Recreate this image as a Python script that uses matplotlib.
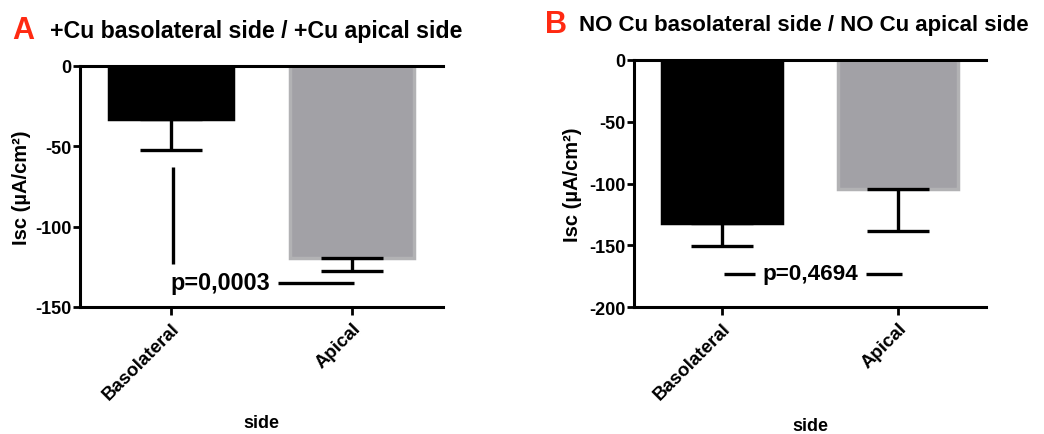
import numpy as np
import matplotlib
matplotlib.use("Agg")
import matplotlib.pyplot as plt

plt.rcParams['font.family'] = ['Liberation Sans', 'DejaVu Sans']
plt.rcParams['font.weight'] = 'bold'
plt.rcParams['axes.unicode_minus'] = False

# data
sides = ["Basolateral", "Apical"]
cu_means = [-33, -119.5]
cu_errs = [19, 8.3]
nocu_means = [-132, -104.3]
nocu_errs = [18.4, 33.7]

bar_colors = ["#000000", "#a2a1a6"]
edge_colors = ["#000000", "#b2b2b4"]
red = "#ff2a12"


def style_axes(ax, ylim, yticks, ylab_x):
    ax.set_xlim(-0.5, 1.5)
    ax.set_ylim(*ylim)
    ax.set_yticks(yticks)
    ax.set_xticks(range(len(sides)))
    ax.set_xticklabels(sides, rotation=45, ha="right", rotation_mode="anchor",
                       fontsize=13.5, fontweight="bold")
    for lab in ax.get_yticklabels():
        lab.set_fontsize(13)
        lab.set_fontweight("bold")
    for s in ["left", "bottom", "top"]:
        ax.spines[s].set_linewidth(2.2)
    ax.spines["right"].set_visible(False)
    ax.tick_params(axis="y", length=5, width=2, pad=1)
    ax.tick_params(axis="x", length=6, width=2, pad=3)
    ax.tick_params(top=False)
    ax.set_xlabel("side", fontsize=13, fontweight="bold")
    ax.xaxis.set_label_coords(0.5, -0.445)
    ax.set_ylabel("Isc (µA/cm²)", fontsize=14.5, fontweight="bold")
    ax.yaxis.set_label_coords(ylab_x, 0.5)


def draw_bars(ax, means, errs):
    x = np.arange(len(means))
    ax.bar(x, means, width=0.685, color=bar_colors, edgecolor=edge_colors,
           linewidth=2.5, zorder=2)
    for xi, m, e in zip(x, means, errs):
        ax.errorbar(xi, m, yerr=[[e], [0]], fmt="none", ecolor="black",
                    elinewidth=2.4, capsize=22, capthick=2.4, zorder=3)


fig = plt.figure(figsize=(10.44, 4.35), dpi=100)

# panel A
axA = fig.add_axes([0.0766, 0.292, 0.3477, 0.554])
draw_bars(axA, cu_means, cu_errs)
style_axes(axA, (-150, 0), [0, -50, -100, -150], -0.135)
axA.plot([0.01, 0.01], [-63, -123], color="black", lw=2.4, solid_capstyle="butt")
axA.plot([0.59, 1.01], [-135, -135], color="black", lw=2.4, solid_capstyle="butt")
axA.text(0.0, -135, "p=0,0003", ha="left", va="center", fontsize=16.8,
         fontweight="bold")
fig.text(0.012, 0.928, "A", color=red, fontsize=22, fontweight="bold",
         va="center", ha="left")
fig.text(0.048, 0.928, "+Cu basolateral side / +Cu apical side", fontsize=16.7,
         fontweight="bold", va="center", ha="left")

# panel B
axB = fig.add_axes([0.6073, 0.2913, 0.3372, 0.5685])
draw_bars(axB, nocu_means, nocu_errs)
style_axes(axB, (-200, 0), [0, -50, -100, -150, -200], -0.148)
axB.plot([0.01, 0.19], [-173, -173], color="black", lw=2.4, solid_capstyle="butt")
axB.plot([0.82, 1.02], [-173, -173], color="black", lw=2.4, solid_capstyle="butt")
axB.text(0.5, -173, "p=0,4694", ha="center", va="center", fontsize=16.2,
         fontweight="bold")
fig.text(0.522, 0.942, "B", color=red, fontsize=22, fontweight="bold",
         va="center", ha="left")
fig.text(0.555, 0.942, "NO Cu basolateral side / NO Cu apical side", fontsize=16,
         fontweight="bold", va="center", ha="left")

fig.savefig("out.png", dpi=100)
